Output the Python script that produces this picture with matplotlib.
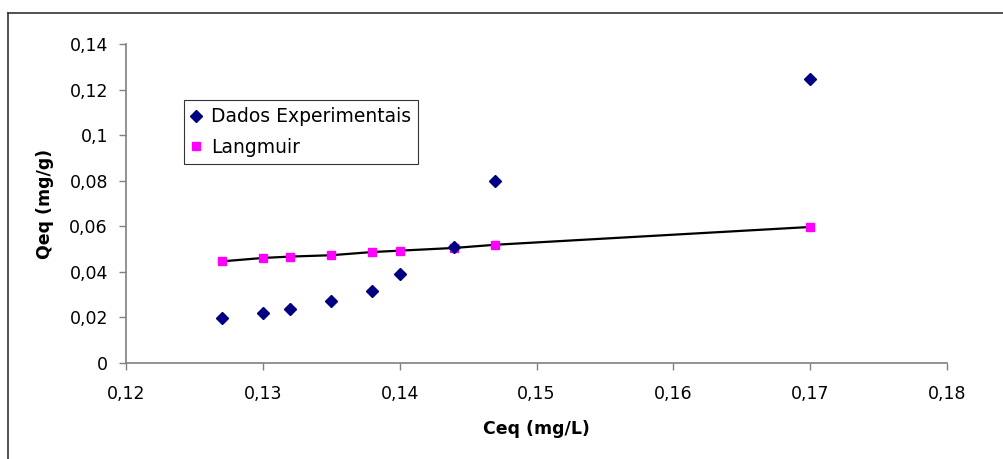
import matplotlib.pyplot as plt
from matplotlib.lines import Line2D
from matplotlib.ticker import FuncFormatter

# data
ceq = [0.127, 0.130, 0.132, 0.135, 0.138, 0.140, 0.144, 0.147, 0.170]
qeq_exp = [0.0199, 0.0218, 0.0238, 0.0272, 0.0317, 0.0389, 0.0510, 0.0797, 0.1246]
qeq_langmuir = [0.0446, 0.0461, 0.0467, 0.0473, 0.0487, 0.0493, 0.0505, 0.0519, 0.0597]

x_ticks = [0.12, 0.13, 0.14, 0.15, 0.16, 0.17, 0.18]
y_ticks = [0, 0.02, 0.04, 0.06, 0.08, 0.10, 0.12, 0.14]

plt.rcParams['font.family'] = ['DejaVu Sans']

W, H = 1004, 459
fig = plt.figure(figsize=(W / 100, H / 100), dpi=100)
ax = fig.add_axes([126 / W, 1 - 363 / H, 821 / W, 319 / H])

# outer chart frame (only top and left edges are visible)
fig.add_artist(Line2D([8 / W, 1], [1 - 13 / H, 1 - 13 / H], color='#333333', lw=1.2, transform=fig.transFigure))
fig.add_artist(Line2D([8 / W, 8 / W], [0, 1 - 13 / H], color='#333333', lw=1.2, transform=fig.transFigure))

ax.plot(ceq, qeq_langmuir, color='black', lw=1.6, zorder=2)
ax.plot(ceq, qeq_exp, linestyle='none', marker='D', color='#000080', markersize=6, zorder=4,
        label='Dados Experimentais')
ax.plot(ceq, qeq_langmuir, linestyle='none', marker='s', color='#FF00FF', markersize=6, zorder=3,
        label='Langmuir')

ax.set_xlim(0.12, 0.18)
ax.set_ylim(0, 0.14)
ax.set_xticks(x_ticks)
ax.set_yticks(y_ticks)
fmt = FuncFormatter(lambda v, p: ('%g' % round(v, 4)).replace('.', ','))
ax.xaxis.set_major_formatter(fmt)
ax.yaxis.set_major_formatter(fmt)

for s in ['top', 'right']:
    ax.spines[s].set_visible(False)
for s in ['left', 'bottom']:
    ax.spines[s].set_color('#808080')
    ax.spines[s].set_linewidth(1.2)
ax.tick_params(direction='out', length=5, width=1, color='#808080', labelsize=12.5, labelcolor='black')
ax.tick_params(axis='x', pad=11)
ax.tick_params(axis='y', pad=8)

ax.set_xlabel('Ceq (mg/L)', fontsize=12.5, fontweight='bold', labelpad=12)
ax.set_ylabel('Qeq (mg/g)', fontsize=12.5, fontweight='bold', labelpad=11)

leg = ax.legend(loc='upper left', bbox_to_anchor=(58 / 821, 1 - 56 / 319), fontsize=13.5,
                frameon=True, fancybox=False, edgecolor='black', handlelength=0.5,
                handletextpad=0.55, borderpad=0.38, labelspacing=0.62, borderaxespad=0)
leg.get_frame().set_linewidth(0.8)

fig.savefig('out.png', dpi=100, facecolor='white')
